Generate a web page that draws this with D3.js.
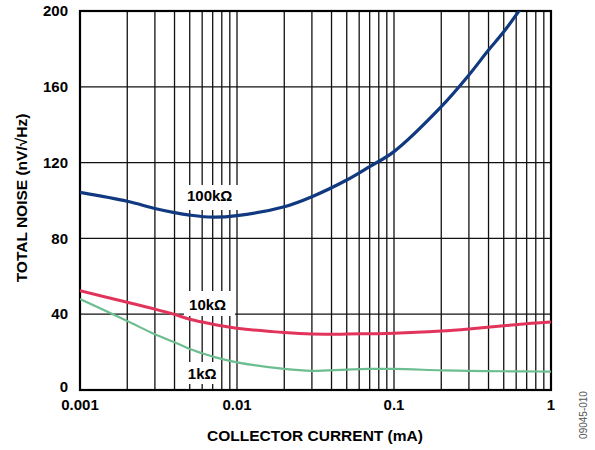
<!DOCTYPE html>
<html>
<head>
<meta charset="utf-8">
<script src="https://cdn.jsdelivr.net/npm/d3@7/dist/d3.min.js"></script>
<style>
  body { margin: 0; background: #fff; }
  text { font-family: "Liberation Sans", Arial, sans-serif; }
</style>
</head>
<body>
<div id="chart"></div>
<script>
// collector current (mA) sample points
const current = [0.001, 0.002, 0.003, 0.004, 0.005, 0.006, 0.007, 0.01, 0.02, 0.03, 0.05, 0.07, 0.1, 0.2, 0.3, 0.5, 0.7, 1];
const noise1k = [48.0, 36.4, 29.4, 25.2, 21.6, 19.4, 17.6, 14.6, 11.1, 10.1, 10.8, 11.1, 11.1, 10.4, 10.1, 9.9, 9.8, 9.7];
const noise10k = [52.4, 46.3, 42.7, 39.9, 37.3, 35.9, 34.7, 32.6, 30.3, 29.5, 29.5, 29.7, 29.9, 31.1, 32.2, 33.9, 35.0, 35.9];
const current100k = [0.001, 0.002, 0.003, 0.004, 0.005, 0.007, 0.01, 0.02, 0.03, 0.05, 0.07, 0.1, 0.2, 0.3, 0.4, 0.5, 0.65];
const noise100k = [104.3, 99.6, 95.8, 93.6, 92.3, 91.2, 92.0, 96.7, 102.0, 110.8, 117.9, 125.8, 149.5, 166.2, 179.4, 189.0, 202.0];
const xTicks = [0.001, 0.01, 0.1, 1];
const xTickLabels = ["0.001", "0.01", "0.1", "1"];
const yTicks = [0, 40, 80, 120, 160, 200];
const seriesLabels = ["100kΩ", "10kΩ", "1kΩ"];

const W = 595, H = 450;
const margin = { top: 11, right: 44, bottom: 60, left: 80 };

const svg = d3.select("#chart").append("svg")
    .attr("width", W)
    .attr("height", H);

const x = d3.scaleLog().domain([0.001, 1]).range([margin.left, W - margin.right]);
const y = d3.scaleLinear().domain([0, 200]).range([H - margin.bottom, margin.top]);

// grid: every 1..9 of each decade, plus the y ticks
const minor = [];
[0.001, 0.01, 0.1].forEach(d => { for (let k = 1; k <= 9; k++) minor.push(d * k); });
minor.push(1);

svg.append("g").selectAll("line").data(minor).join("line")
    .attr("x1", d => x(d)).attr("x2", d => x(d))
    .attr("y1", y(0)).attr("y2", y(200))
    .attr("stroke", "#111").attr("stroke-width", 1.3);

svg.append("g").selectAll("line").data(yTicks.slice(1, -1)).join("line")
    .attr("x1", x(0.001)).attr("x2", x(1))
    .attr("y1", d => y(d)).attr("y2", d => y(d))
    .attr("stroke", "#111").attr("stroke-width", 1.3);

svg.append("rect")
    .attr("x", x(0.001)).attr("y", y(200))
    .attr("width", x(1) - x(0.001)).attr("height", y(0) - y(200))
    .attr("fill", "none").attr("stroke", "#000").attr("stroke-width", 2.2);

// white label boxes that break the grid
const labelPos = [
  { cx: 0.0067, v: 102.5, box: [188, 185, 52, 25] },
  { cx: 0.0065, v: 45, box: [184, 291, 51, 25] },
  { cx: 0.006, v: 8.8, box: [184, 362, 35, 22] }
];
svg.append("g").selectAll("rect").data(labelPos).join("rect")
    .attr("x", d => d.box[0]).attr("y", d => d.box[1])
    .attr("width", d => d.box[2]).attr("height", d => d.box[3])
    .attr("fill", "#fff");

svg.append("g").selectAll("text").data(labelPos).join("text")
    .attr("x", d => x(d.cx)).attr("y", d => y(d.v))
    .attr("dy", "0.35em")
    .attr("text-anchor", "middle")
    .attr("font-size", 15).attr("font-weight", "bold")
    .text((d, i) => seriesLabels[i]);

// curves
svg.append("clipPath").attr("id", "plot").append("rect")
    .attr("x", x(0.001)).attr("y", y(200))
    .attr("width", x(1) - x(0.001)).attr("height", y(0) - y(200));

const line = d3.line().x(d => x(d[0])).y(d => y(d[1])).curve(d3.curveCatmullRom.alpha(0.5));
const series = [
  { xs: current, ys: noise1k, color: "#6cbd8f", w: 2.2 },
  { xs: current, ys: noise10k, color: "#e2345a", w: 3 },
  { xs: current100k, ys: noise100k, color: "#10397f", w: 3.2 }
];
svg.append("g").attr("clip-path", "url(#plot)")
  .selectAll("path").data(series).join("path")
    .attr("d", s => line(s.xs.map((c, i) => [c, s.ys[i]])))
    .attr("fill", "none")
    .attr("stroke", s => s.color)
    .attr("stroke-width", s => s.w);

// axes labels
svg.append("g").selectAll("text").data(xTicks).join("text")
    .attr("x", d => x(d)).attr("y", 410)
    .attr("text-anchor", "middle")
    .attr("font-size", 15).attr("font-weight", "bold")
    .text((d, i) => xTickLabels[i]);

svg.append("g").selectAll("text").data(yTicks).join("text")
    .attr("x", 68).attr("y", d => y(d))
    .attr("dy", d => d === 0 ? "0.1em" : "0.35em")
    .attr("text-anchor", "end")
    .attr("font-size", 15).attr("font-weight", "bold")
    .text(d => d);

svg.append("text")
    .attr("x", 315).attr("y", 441)
    .attr("text-anchor", "middle")
    .attr("font-size", 15.5).attr("font-weight", "bold")
    .text("COLLECTOR CURRENT (mA)");

svg.append("text")
    .attr("transform", "translate(27,198) rotate(-90)")
    .attr("text-anchor", "middle")
    .attr("font-size", 15.5).attr("font-weight", "bold")
    .text("TOTAL NOISE (nV/√Hz)");

svg.append("text")
    .attr("transform", "translate(587,415) rotate(-90)")
    .attr("text-anchor", "middle")
    .attr("font-size", 10).attr("fill", "#555")
    .text("09045-010");
</script>
</body>
</html>
